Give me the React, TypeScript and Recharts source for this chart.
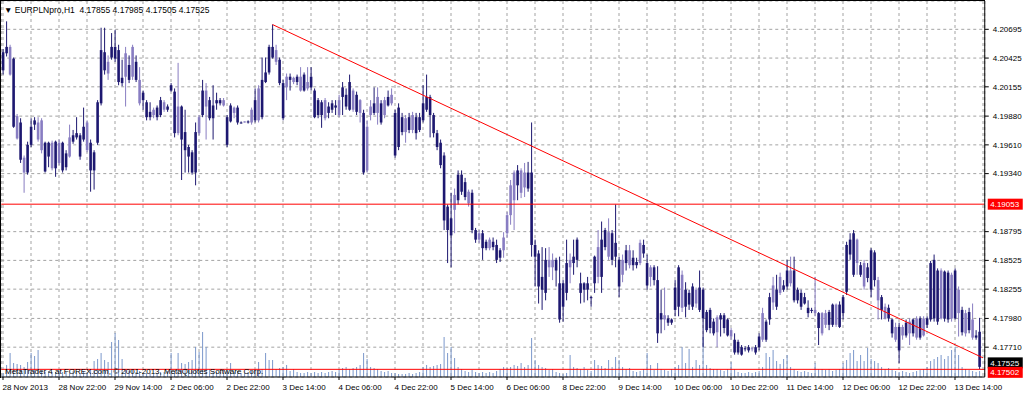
import {
  Bar,
  CartesianGrid,
  ComposedChart,
  Line,
  ReferenceLine,
  XAxis,
  YAxis,
} from "recharts";

// one row per hour: open, high, low, close
type Ohlc = [number, number, number, number];

const nov28: Ohlc[] = [
  [4.2048, 4.2051, 4.2027, 4.2031], [4.2053, 4.2077, 4.2044, 4.2047], [4.2027, 4.2055, 4.2026, 4.2053],
  [4.2042, 4.2043, 4.1977, 4.1978], [4.1967, 4.199, 4.1966, 4.1988], [4.1982, 4.1986, 4.1944, 4.1947],
  [4.1935, 4.1951, 4.1916, 4.1949], [4.1961, 4.1964, 4.1933, 4.1935], [4.1978, 4.1986, 4.1959, 4.1961],
  [4.1984, 4.1987, 4.1975, 4.198], [4.1966, 4.1987, 4.1964, 4.1982], [4.1956, 4.1986, 4.1953, 4.1984],
  [4.1963, 4.1964, 4.1935, 4.1936], [4.1963, 4.1964, 4.194, 4.195], [4.1939, 4.1965, 4.1937, 4.1963],
  [4.1964, 4.1965, 4.1931, 4.1939], [4.1944, 4.1966, 4.1942, 4.1963], [4.1963, 4.1964, 4.1935, 4.1937],
];
const nov29: Ohlc[] = [
  [4.1953, 4.1956, 4.1937, 4.194], [4.195, 4.198, 4.1949, 4.1968], [4.197, 4.1975, 4.1962, 4.1964],
  [4.1972, 4.1987, 4.1966, 4.1968], [4.197, 4.1972, 4.1947, 4.195], [4.1978, 4.1996, 4.1964, 4.1966],
  [4.1956, 4.1984, 4.1954, 4.1982], [4.1963, 4.1966, 4.1917, 4.1937], [4.1954, 4.1956, 4.1919, 4.1937],
  [4.2001, 4.2003, 4.1961, 4.1963], [4.205, 4.2071, 4.1998, 4.2], [4.2048, 4.2071, 4.2027, 4.2031],
  [4.2028, 4.2045, 4.2022, 4.2039], [4.2053, 4.2066, 4.2041, 4.2043], [4.2053, 4.2069, 4.2039, 4.2042],
  [4.205, 4.2055, 4.2017, 4.202], [4.2024, 4.2041, 4.2016, 4.2019], [4.2025, 4.2053, 4.1997, 4.2047],
  [4.2036, 4.2045, 4.2019, 4.2022], [4.2025, 4.2055, 4.2022, 4.2053], [4.2039, 4.2045, 4.202, 4.2022],
  [4.2, 4.2034, 4.1998, 4.2022],
];
const dec01: Ohlc[] = [
  [4.201, 4.2012, 4.1994, 4.2003], [4.2001, 4.2003, 4.1984, 4.1987],
];
const dec02: Ohlc[] = [
  [4.1992, 4.2001, 4.1984, 4.1987], [4.1989, 4.1996, 4.1986, 4.1994], [4.1996, 4.1998, 4.1984, 4.1987],
  [4.2003, 4.2006, 4.1987, 4.1989], [4.1994, 4.2003, 4.1992, 4.2001], [4.1997, 4.1999, 4.1992, 4.1994],
  [4.2017, 4.2019, 4.2011, 4.2012], [4.2011, 4.2014, 4.1968, 4.1972], [4.1972, 4.2038, 4.197, 4.1997],
  [4.1997, 4.1998, 4.1928, 4.1966], [4.1973, 4.1994, 4.1935, 4.1956], [4.1959, 4.1961, 4.1935, 4.195],
  [4.1954, 4.1956, 4.1933, 4.1935], [4.1973, 4.1982, 4.1923, 4.1935], [4.1972, 4.1989, 4.197, 4.1987],
  [4.2012, 4.2022, 4.1987, 4.1989], [4.1997, 4.2019, 4.1966, 4.2012], [4.2003, 4.2006, 4.1984, 4.1986],
  [4.1998, 4.2017, 4.1966, 4.1986], [4.2003, 4.201, 4.1994, 4.2], [4.2003, 4.2005, 4.1998, 4.2],
  [4.1998, 4.2005, 4.1997, 4.2003], [4.1987, 4.1989, 4.1959, 4.1961], [4.1998, 4.2, 4.1982, 4.1983],
];
const dec03: Ohlc[] = [
  [4.1991, 4.1997, 4.1986, 4.1996], [4.1996, 4.1998, 4.198, 4.1982], [4.1982, 4.1983, 4.1981, 4.1982],
  [4.1982, 4.1983, 4.1982, 4.1983], [4.1983, 4.1984, 4.1981, 4.1982], [4.1982, 4.1996, 4.198, 4.1994],
  [4.2003, 4.2014, 4.1982, 4.1984], [4.1984, 4.2017, 4.1982, 4.2014], [4.2022, 4.2043, 4.1985, 4.1987],
  [4.2029, 4.2043, 4.2019, 4.202], [4.2053, 4.2055, 4.2027, 4.2029], [4.2053, 4.2074, 4.2042, 4.2043],
  [4.2039, 4.2055, 4.2036, 4.205], [4.2041, 4.2043, 4.2017, 4.2019], [4.2019, 4.2022, 4.1984, 4.1986],
  [4.2015, 4.2028, 4.2003, 4.2025], [4.2025, 4.2028, 4.2012, 4.2022], [4.202, 4.2025, 4.2018, 4.2024],
  [4.2025, 4.2027, 4.2017, 4.202], [4.2012, 4.2034, 4.2011, 4.2025], [4.2027, 4.2029, 4.2011, 4.2012],
  [4.2014, 4.2034, 4.2012, 4.202], [4.2025, 4.2034, 4.2012, 4.2015], [4.2012, 4.2014, 4.1986, 4.1987],
];
const dec04: Ohlc[] = [
  [4.2003, 4.2005, 4.1986, 4.1989], [4.2001, 4.2003, 4.1977, 4.1989], [4.1986, 4.2005, 4.1984, 4.2003],
  [4.1997, 4.2001, 4.1986, 4.1991], [4.2, 4.2003, 4.1991, 4.1994], [4.1998, 4.2003, 4.1989, 4.1996],
  [4.1989, 4.2008, 4.1987, 4.2003], [4.2015, 4.202, 4.1989, 4.2006], [4.2008, 4.2014, 4.1994, 4.1997],
  [4.202, 4.2027, 4.1993, 4.1994], [4.1994, 4.2014, 4.1992, 4.2012], [4.2008, 4.2011, 4.1989, 4.1992],
  [4.1991, 4.2004, 4.1982, 4.2003], [4.1991, 4.1994, 4.1933, 4.1935], [4.1937, 4.1984, 4.1935, 4.1978],
  [4.1989, 4.2003, 4.1984, 4.1997], [4.2, 4.2015, 4.1989, 4.1991], [4.1991, 4.2015, 4.198, 4.2006],
  [4.2, 4.2003, 4.198, 4.1982], [4.1989, 4.2006, 4.1986, 4.2003], [4.2006, 4.2012, 4.1997, 4.1998],
  [4.2, 4.2014, 4.1998, 4.2008], [4.1991, 4.1994, 4.1949, 4.1951], [4.1996, 4.2, 4.1956, 4.1959],
];
const dec05: Ohlc[] = [
  [4.1987, 4.1991, 4.197, 4.1973], [4.1973, 4.1989, 4.1963, 4.1986], [4.1987, 4.1991, 4.1972, 4.1975],
  [4.1975, 4.1992, 4.1972, 4.1989], [4.1987, 4.1991, 4.1966, 4.1972], [4.1987, 4.1991, 4.1973, 4.1975],
  [4.2, 4.2017, 4.1982, 4.1984], [4.2006, 4.2027, 4.1992, 4.1994], [4.2006, 4.2008, 4.1968, 4.1989],
  [4.1989, 4.1991, 4.1968, 4.1972], [4.1972, 4.1975, 4.1956, 4.1959], [4.1963, 4.1966, 4.1939, 4.1942],
  [4.1951, 4.1954, 4.1881, 4.189], [4.1903, 4.1905, 4.185, 4.1881], [4.1892, 4.1916, 4.1846, 4.1876],
  [4.19, 4.192, 4.1878, 4.1914], [4.1933, 4.1937, 4.1905, 4.1909], [4.1933, 4.1937, 4.1914, 4.1917],
  [4.1926, 4.193, 4.1909, 4.1912], [4.1906, 4.1919, 4.1903, 4.1917], [4.1916, 4.1919, 4.1878, 4.1881],
  [4.1881, 4.1883, 4.1869, 4.1872], [4.1872, 4.1881, 4.1869, 4.1878], [4.1878, 4.1881, 4.1853, 4.1864],
];
const dec06: Ohlc[] = [
  [4.187, 4.1872, 4.1862, 4.1864], [4.1864, 4.1874, 4.1862, 4.1872], [4.187, 4.1874, 4.1862, 4.1865],
  [4.1867, 4.1872, 4.185, 4.1853], [4.1862, 4.1864, 4.1851, 4.1855], [4.1862, 4.1879, 4.1855, 4.1874],
  [4.1878, 4.1898, 4.1874, 4.1895], [4.1895, 4.1928, 4.1886, 4.1923], [4.1909, 4.1937, 4.1881, 4.1935],
  [4.1937, 4.1942, 4.1909, 4.1923], [4.1916, 4.1939, 4.1911, 4.1937], [4.1921, 4.1944, 4.1912, 4.1935],
  [4.1935, 4.1945, 4.1917, 4.192], [4.1935, 4.1982, 4.1856, 4.1867], [4.1867, 4.1872, 4.1828, 4.1856],
  [4.1859, 4.1862, 4.1812, 4.1828], [4.1837, 4.1865, 4.1806, 4.1825], [4.1853, 4.1864, 4.1815, 4.1822],
  [4.1846, 4.1865, 4.1837, 4.1853], [4.1846, 4.1859, 4.1834, 4.1853], [4.1853, 4.1855, 4.1828, 4.1843],
  [4.1831, 4.1856, 4.1794, 4.1797],
];
const dec08: Ohlc[] = [
  [4.1831, 4.1834, 4.1795, 4.1809], [4.185, 4.1872, 4.1815, 4.1822],
];
const dec09: Ohlc[] = [
  [4.1846, 4.1859, 4.1831, 4.1853], [4.1856, 4.1872, 4.1839, 4.185], [4.1872, 4.1874, 4.1846, 4.1853],
  [4.1831, 4.1841, 4.1812, 4.1822], [4.1831, 4.1832, 4.1813, 4.1825], [4.1831, 4.1837, 4.1815, 4.1825],
  [4.1818, 4.1819, 4.1809, 4.1817], [4.1856, 4.1857, 4.1822, 4.1831], [4.1837, 4.1881, 4.1831, 4.1865],
  [4.1872, 4.1889, 4.1822, 4.1837], [4.1881, 4.1883, 4.1862, 4.1865], [4.1856, 4.1892, 4.1853, 4.1879],
  [4.1878, 4.1881, 4.1848, 4.1853], [4.1869, 4.1905, 4.1846, 4.1856], [4.1853, 4.1856, 4.1818, 4.1828],
  [4.1839, 4.1858, 4.1832, 4.1853], [4.1862, 4.1867, 4.1843, 4.185], [4.1848, 4.1867, 4.1845, 4.1862],
  [4.1855, 4.1862, 4.1843, 4.1848], [4.1851, 4.1855, 4.1845, 4.1848], [4.185, 4.1872, 4.1848, 4.1869],
  [4.1867, 4.1872, 4.1855, 4.1859], [4.185, 4.1858, 4.1825, 4.1829], [4.1837, 4.1848, 4.1828, 4.1846],
];
const dec10: Ohlc[] = [
  [4.1846, 4.1848, 4.1829, 4.1834], [4.1834, 4.1847, 4.1775, 4.1784], [4.1803, 4.1825, 4.1784, 4.1797],
  [4.1797, 4.1827, 4.1787, 4.1801], [4.1798, 4.1801, 4.1791, 4.1794], [4.1797, 4.1798, 4.1792, 4.1794],
  [4.1827, 4.1834, 4.18, 4.1806], [4.1846, 4.1848, 4.18, 4.1809], [4.1808, 4.1843, 4.1804, 4.1839],
  [4.1825, 4.1832, 4.1799, 4.1809], [4.1822, 4.1825, 4.1806, 4.1811], [4.1828, 4.1831, 4.1806, 4.1809],
  [4.1812, 4.1827, 4.1808, 4.1825], [4.1827, 4.1843, 4.1804, 4.1806], [4.1825, 4.1827, 4.1771, 4.1798],
  [4.1804, 4.1806, 4.1785, 4.1787], [4.1806, 4.1808, 4.1784, 4.1789], [4.1795, 4.1798, 4.1782, 4.1784],
  [4.1785, 4.1801, 4.1771, 4.1799], [4.1801, 4.1803, 4.1781, 4.1797], [4.1801, 4.1803, 4.1784, 4.1789],
  [4.1797, 4.1798, 4.1781, 4.1782], [4.1781, 4.1789, 4.1778, 4.1787], [4.1778, 4.1784, 4.1764, 4.1766],
];
const dec11: Ohlc[] = [
  [4.1776, 4.1778, 4.1764, 4.1766], [4.1771, 4.1773, 4.1763, 4.1764], [4.177, 4.1772, 4.1767, 4.1769],
  [4.1771, 4.1773, 4.1766, 4.1768], [4.1769, 4.1771, 4.1767, 4.177], [4.1771, 4.1773, 4.1764, 4.1766],
  [4.1781, 4.1784, 4.1768, 4.1771], [4.1778, 4.1808, 4.1776, 4.1803], [4.1795, 4.1797, 4.1776, 4.1778],
  [4.1818, 4.1822, 4.1792, 4.1797], [4.1813, 4.1837, 4.1806, 4.1829], [4.1825, 4.1839, 4.1806, 4.1809],
  [4.1822, 4.1841, 4.182, 4.1837], [4.1829, 4.1834, 4.1823, 4.1825], [4.1843, 4.1853, 4.1825, 4.1828],
  [4.1831, 4.1856, 4.1828, 4.1843], [4.1843, 4.1856, 4.1813, 4.1815], [4.1825, 4.1827, 4.1812, 4.1815],
  [4.1822, 4.1825, 4.1806, 4.1809], [4.1818, 4.1822, 4.1811, 4.1812], [4.1808, 4.1815, 4.1799, 4.1803],
  [4.1806, 4.1808, 4.1803, 4.1805], [4.1803, 4.1837, 4.18, 4.1806], [4.1803, 4.1804, 4.1773, 4.1789],
];
const dec12: Ohlc[] = [
  [4.1784, 4.1804, 4.1782, 4.1803], [4.1792, 4.1806, 4.1789, 4.1803], [4.1804, 4.1806, 4.1787, 4.1792],
  [4.1811, 4.1812, 4.179, 4.1792], [4.1792, 4.1812, 4.179, 4.1811], [4.1811, 4.1814, 4.1789, 4.179],
  [4.1818, 4.182, 4.1797, 4.1803], [4.1867, 4.187, 4.182, 4.1823], [4.1872, 4.1878, 4.1853, 4.1858],
  [4.1878, 4.1881, 4.1837, 4.1839], [4.185, 4.1873, 4.1839, 4.1872], [4.1848, 4.1851, 4.1837, 4.1839],
  [4.1828, 4.1853, 4.1825, 4.185], [4.1846, 4.185, 4.1832, 4.1836], [4.1862, 4.1864, 4.1818, 4.1825],
  [4.186, 4.1862, 4.1828, 4.1834], [4.1815, 4.1837, 4.1797, 4.1834], [4.1818, 4.182, 4.1797, 4.1806],
  [4.1798, 4.1812, 4.1797, 4.1809], [4.1808, 4.1811, 4.1795, 4.1798], [4.1797, 4.1798, 4.178, 4.1784],
  [4.1778, 4.1794, 4.1776, 4.179], [4.179, 4.1794, 4.1756, 4.1768], [4.1782, 4.1792, 4.1778, 4.179],
];
const dec13: Ohlc[] = [
  [4.1794, 4.1797, 4.178, 4.1782], [4.1784, 4.1798, 4.1773, 4.1795], [4.1797, 4.1798, 4.1781, 4.1784],
  [4.178, 4.18, 4.1778, 4.1798], [4.1798, 4.18, 4.1778, 4.178], [4.1782, 4.18, 4.1781, 4.1798],
  [4.1798, 4.18, 4.1789, 4.1792], [4.185, 4.1852, 4.1795, 4.1797], [4.1853, 4.1858, 4.1795, 4.1798],
  [4.1843, 4.1845, 4.1792, 4.1795], [4.1798, 4.1845, 4.1797, 4.1843], [4.1842, 4.1843, 4.1795, 4.1798],
  [4.1841, 4.1843, 4.1794, 4.1797], [4.1798, 4.1841, 4.1795, 4.1839], [4.1843, 4.1845, 4.1797, 4.1798],
  [4.1803, 4.1828, 4.1781, 4.1825], [4.1806, 4.1809, 4.1782, 4.1785], [4.1784, 4.1806, 4.1781, 4.1803],
  [4.1804, 4.1808, 4.1784, 4.1787], [4.178, 4.1812, 4.1778, 4.1797], [4.1782, 4.1787, 4.1778, 4.178],
  [4.17855, 4.17985, 4.17505, 4.17525],
];

// tick volumes, same hours as above
const volNov28 = [40, 120, 240, 140, 130, 120, 100, 150, 240, 210, 270, 60, 50, 60, 40, 50, 60, 50];
const volNov29 = [50, 40, 60, 50, 40, 60, 50, 70, 160, 180, 240, 170, 150, 350, 440, 370, 180, 80, 60, 70, 50, 60];
const volDec01 = [30, 40];
const volDec02 = [40, 30, 40, 50, 50, 60, 240, 60, 240, 140, 130, 150, 170, 300, 250, 450, 300, 80, 60, 50, 50, 60, 70, 140];
const volDec03 = [50, 60, 40, 40, 50, 60, 80, 150, 80, 240, 170, 170, 80, 90, 100, 120, 60, 80, 50, 40, 40, 50, 40, 50];
const volDec04 = [40, 50, 40, 50, 60, 50, 70, 90, 100, 80, 90, 100, 120, 240, 180, 100, 90, 80, 60, 50, 60, 40, 40, 30];
const volDec05 = [30, 30, 40, 30, 40, 50, 100, 120, 100, 110, 120, 130, 400, 240, 300, 190, 100, 80, 60, 50, 70, 50, 40, 50];
const volDec06 = [40, 50, 40, 60, 80, 100, 90, 100, 120, 110, 140, 100, 120, 390, 170, 120, 100, 90, 70, 80, 50, 40];
const volDec08 = [30, 40];
const volDec09 = [220, 100, 90, 80, 100, 70, 60, 170, 120, 110, 90, 170, 100, 200, 170, 100, 80, 90, 60, 50, 60, 80, 240, 120];
const volDec10 = [70, 140, 80, 70, 60, 80, 100, 120, 300, 140, 280, 100, 170, 120, 400, 120, 90, 80, 80, 70, 60, 80, 150, 80];
const volDec11 = [50, 40, 40, 50, 40, 50, 60, 100, 240, 200, 270, 160, 130, 180, 220, 100, 80, 60, 50, 60, 50, 40, 140, 80];
const volDec12 = [80, 70, 80, 60, 70, 80, 140, 170, 240, 270, 160, 220, 160, 290, 180, 160, 140, 100, 80, 90, 70, 60, 50, 60];
const volDec13 = [50, 40, 50, 60, 70, 80, 100, 160, 180, 200, 220, 180, 210, 270, 300, 220, 100, 80, 70, 60, 50, 60];

// one label every 16 bars
const timeLabels = [
  "28 Nov 2013", "28 Nov 22:00", "29 Nov 14:00", "2 Dec 06:00", "2 Dec 22:00", "3 Dec 14:00",
  "4 Dec 06:00", "4 Dec 22:00", "5 Dec 14:00", "6 Dec 06:00", "8 Dec 22:00", "9 Dec 14:00",
  "10 Dec 06:00", "10 Dec 22:00", "11 Dec 14:00", "12 Dec 06:00", "12 Dec 22:00", "13 Dec 14:00",
];
// 4.19065 and 4.17440 sit under the price tags, so only the visible ones get labels
const priceTicks = [
  4.20695, 4.20425, 4.20155, 4.1988, 4.1961, 4.1934, 4.18795, 4.18525, 4.18255, 4.1798, 4.1771,
];

const symbol = "EURPLNpro,H1";
const trendFrom = 77;
const trendFromPrice = 4.2074;
const trendToPrice = 4.1761;
const levelLine = 4.19053;
const lowLine = 4.17502;
const bidPrice = 4.17525;

const FONT = '"Liberation Sans", Arial, sans-serif';
const DARK = "#1d1870";
const LIGHT = "#887dc2";
const RED = "#ff0000";

const candles = [nov28, nov29, dec01, dec02, dec03, dec04, dec05, dec06, dec08, dec09, dec10, dec11, dec12, dec13].flat();
const volumes = [
  volNov28, volNov29, volDec01, volDec02, volDec03, volDec04, volDec05, volDec06, volDec08,
  volDec09, volDec10, volDec11, volDec12, volDec13,
].flat();
const slots = candles.length + 1;

const rows = Array.from({ length: slots }, (_, i) => {
  const bar = candles[i];
  const trend = i === trendFrom ? trendFromPrice : i === slots - 1 ? trendToPrice : null;
  if (!bar) return { i, trend };
  const [o, h, l, c] = bar;
  return { i, o, h, l, c, range: [l, h], vol: volumes[i], trend };
});

const gridTicks = rows.filter((r) => r.i % 8 === 0).map((r) => r.i);

const Candle = (props: any) => {
  const { x, y, width, height, payload } = props;
  if (!payload || payload.o == null) return null;
  const { o, h, l, c } = payload;
  const top = height < 0 ? y + height : y;
  const span = Math.abs(height);
  const k = h === l ? 0 : span / (h - l);
  const cx = x + width / 2;
  const bodyTop = top + (h - Math.max(o, c)) * k;
  const bodyBottom = top + (h - Math.min(o, c)) * k;
  const color = c > o ? LIGHT : DARK;
  return (
    <g>
      <line x1={cx} x2={cx} y1={top} y2={top + Math.max(span, 1)} stroke={color} strokeWidth={1} />
      <rect x={cx - 1.3} y={bodyTop} width={2.6} height={Math.max(bodyBottom - bodyTop, 1)} fill={color} />
    </g>
  );
};

const VolumeStick = (props: any) => {
  const { x, y, width, height } = props;
  if (!height) return null;
  const cx = x + width / 2;
  return <line x1={cx} x2={cx} y1={y} y2={y + height} stroke="#7b98cc" strokeWidth={1} />;
};

const TimeTick = (props: any) => {
  const { x, y, payload } = props;
  if (payload.value % 16 !== 0) return null;
  const label = timeLabels[payload.value / 16];
  if (!label) return null;
  return (
    <g>
      <line x1={x} x2={x} y1={y - 3} y2={y} stroke="#000" />
      <text x={x - 0.5} y={y + 10} fontSize={8} fontFamily={FONT} fill="#000" textAnchor="start">
        {label}
      </text>
    </g>
  );
};

const PriceTag = (props: any) => {
  const { viewBox, text, fill, dy = 0 } = props;
  if (!viewBox) return null;
  const left = viewBox.x + viewBox.width + 3;
  const mid = viewBox.y + dy;
  return (
    <g>
      <rect x={left} y={mid - 5.5} width={35} height={11} fill={fill} />
      <text x={left + 2.5} y={mid + 3} fill="#fff" fontSize={8} fontFamily={FONT}>
        {text}
      </text>
    </g>
  );
};

const last = candles[candles.length - 1];

export default function App() {
  return (
    <div style={{ position: "absolute", left: 0, top: 0, width: 1024, height: 394, background: "#fff" }}>
      <ComposedChart
        width={1024}
        height={394}
        data={rows}
        margin={{ top: 1, right: 0, bottom: 0, left: 1.25 }}
      >
        <CartesianGrid stroke="#a3a3a3" strokeDasharray="3 3" />
        <XAxis
          dataKey="i"
          type="category"
          ticks={gridTicks}
          interval={0}
          height={17}
          tickSize={3}
          tickMargin={0}
          tickLine={false}
          axisLine={{ stroke: "#000" }}
          tick={(p: any) => <TimeTick {...p} />}
        />
        <XAxis xAxisId="vol" dataKey="i" type="category" hide />
        <YAxis
          orientation="right"
          type="number"
          domain={[4.1743, 4.20961]}
          allowDataOverflow
          ticks={priceTicks}
          interval={0}
          width={39.25}
          tickSize={4}
          tickMargin={4}
          axisLine={{ stroke: "#000" }}
          tickLine={{ stroke: "#000" }}
          tick={{ fontSize: 8, fill: "#000", fontFamily: FONT }}
          tickFormatter={(v: number) => v.toFixed(5)}
        />
        <YAxis yAxisId="vol" type="number" domain={[0, 3760]} hide />
        <Bar
          xAxisId="vol"
          yAxisId="vol"
          dataKey="vol"
          shape={(p: any) => <VolumeStick {...p} />}
          isAnimationActive={false}
        />
        <Bar dataKey="range" shape={(p: any) => <Candle {...p} />} isAnimationActive={false} />
        <Line
          dataKey="trend"
          stroke={RED}
          strokeWidth={1}
          dot={false}
          activeDot={false}
          connectNulls
          isAnimationActive={false}
        />
        <ReferenceLine y={levelLine} stroke={RED} label={<PriceTag text={levelLine.toFixed(5)} fill={RED} />} />
        <ReferenceLine y={bidPrice} stroke="none" label={<PriceTag text={bidPrice.toFixed(5)} fill="#000" dy={-4} />} />
        <ReferenceLine y={lowLine} stroke={RED} label={<PriceTag text={lowLine.toFixed(5)} fill={RED} dy={3} />} />
      </ComposedChart>
      <div
        style={{
          position: "absolute",
          left: 0,
          top: 0,
          width: 985,
          height: 378,
          boxSizing: "border-box",
          borderLeft: "1px solid #000",
          borderTop: "1px solid #000",
          pointerEvents: "none",
        }}
      />
      <div
        style={{
          position: "absolute",
          left: 4,
          top: 5,
          font: `8.5px ${FONT}`,
          lineHeight: "10px",
          whiteSpace: "pre",
          color: "#000",
        }}
      >
        {`▼ ${symbol}  ${last.map((v) => v.toFixed(5)).join(" ")}`}
      </div>
      <div
        style={{
          position: "absolute",
          left: 5,
          top: 367,
          font: `8px ${FONT}`,
          lineHeight: "10px",
          whiteSpace: "pre",
          color: "#000",
        }}
      >
        MetaTrader 4 at FOREX.com, © 2001-2013, MetaQuotes Software Corp.
      </div>
    </div>
  );
}
